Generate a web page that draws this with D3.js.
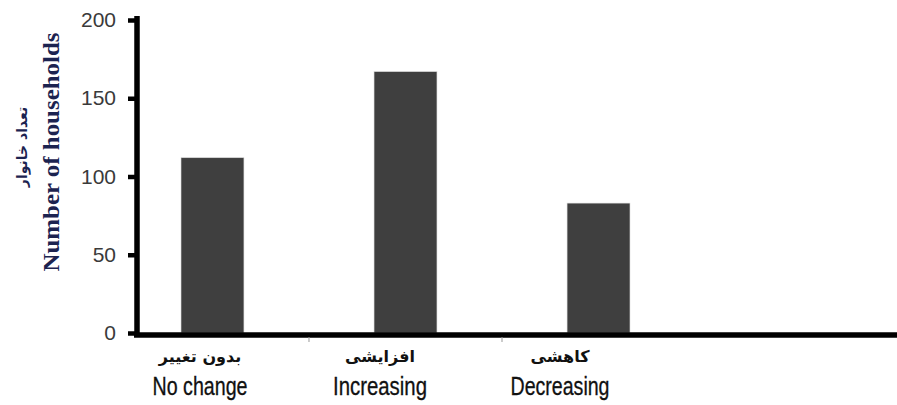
<!DOCTYPE html>
<html><head><meta charset="utf-8">
<script src="https://cdn.jsdelivr.net/npm/d3@7"></script>
<style>body{margin:0;background:#fff}svg{display:block}</style>
</head><body>
<script>
const categories = ["No change", "Increasing", "Decreasing"];
const categoriesFa = ["بدون تغییر", "افزایشی", "کاهشی"];
const values = [112, 167, 83];
const yTicks = [0, 50, 100, 150, 200];
const yTitleEn = "Number of households";
const yTitleFa = "تعداد خانوار";

const W = 897, H = 405;
const svg = d3.select("body").append("svg").attr("width", W).attr("height", H);

const y = d3.scaleLinear().domain([0, 200]).range([333, 20]);
const x = d3.scaleBand().domain(categories).range([137, 674]).paddingInner(0.674).paddingOuter(0.228);
const xl = d3.scalePoint().domain(categories).range([200, 560]);
const labelWidths = [95, 94, 99];

// bars
svg.append("g").selectAll("rect").data(values).join("rect")
  .attr("x", (d, i) => x(categories[i]))
  .attr("width", x.bandwidth())
  .attr("y", d => y(d))
  .attr("height", d => y(0) - y(d))
  .attr("fill", "#3f3f3f")
  .attr("stroke", "#d8d8d8").attr("stroke-width", 0.6);

// x axis line
svg.append("line").attr("x1", 134).attr("x2", W).attr("y1", y(0) + 2).attr("y2", y(0) + 2)
  .style("stroke", "#000").style("stroke-width", "5.5px");
// small gray ticks between categories
const mids = [0, 1].map(i => (x(categories[i]) + x.bandwidth() + x(categories[i + 1])) / 2);
svg.append("g").selectAll("line").data(mids).join("line")
  .attr("x1", d => d).attr("x2", d => d)
  .attr("y1", y(0) + 4).attr("y2", y(0) + 9)
  .attr("stroke", "#999").attr("stroke-width", 1);

// y axis
const yAxis = d3.axisLeft(y).tickValues(yTicks).tickSize(9).tickPadding(12);
const gy = svg.append("g").attr("transform", "translate(137,0)").call(yAxis);
gy.select(".domain").style("stroke", "#000").style("stroke-width", "5.5px")
  .attr("d", `M0,${y(200) - 4}V${y(0) + 4}`);
gy.selectAll(".tick line").style("stroke", "#000").style("stroke-width", "4.5px");
gy.selectAll(".tick text").attr("fill", "#3a3a3a")
  .style("font-family", "'Liberation Sans', Arial, sans-serif").style("font-size", "21px");

// x labels
const gl = svg.append("g");
gl.selectAll("text.fa").data(categoriesFa).join("text").attr("class", "fa")
  .attr("x", (d, i) => xl(categories[i])).attr("y", 362)
  .attr("text-anchor", "middle").attr("fill", "#111")
  .style("font-family", "'DejaVu Sans', 'Noto Sans', sans-serif").style("font-weight", "bold").style("font-size", "16px")
  .text(d => d);
gl.selectAll("text.en").data(categories).join("text").attr("class", "en")
  .attr("x", d => xl(d)).attr("y", 395)
  .attr("text-anchor", "middle").attr("fill", "#111")
  .attr("textLength", (d, i) => labelWidths[i]).attr("lengthAdjust", "spacingAndGlyphs")
  .style("font-family", "'Liberation Sans', Arial, sans-serif").style("font-size", "25px")
  .style("stroke", "#111").style("stroke-width", "0.3px")
  .text(d => d);

// y titles
svg.append("text").attr("transform", "translate(59,152) rotate(-90)")
  .attr("text-anchor", "middle").attr("fill", "#1c2350")
  .style("font-family", "'Liberation Serif', 'Times New Roman', serif").style("font-weight", "bold").style("font-size", "23px")
  .attr("textLength", 239).attr("lengthAdjust", "spacingAndGlyphs")
  .text(yTitleEn);
svg.append("text").attr("transform", "translate(27,147) rotate(-90)")
  .attr("text-anchor", "middle").attr("fill", "#1c2350")
  .style("font-family", "'DejaVu Sans', 'Noto Sans', sans-serif").style("font-weight", "bold").style("font-size", "14px")
  .text(yTitleFa);
</script>
</body></html>
